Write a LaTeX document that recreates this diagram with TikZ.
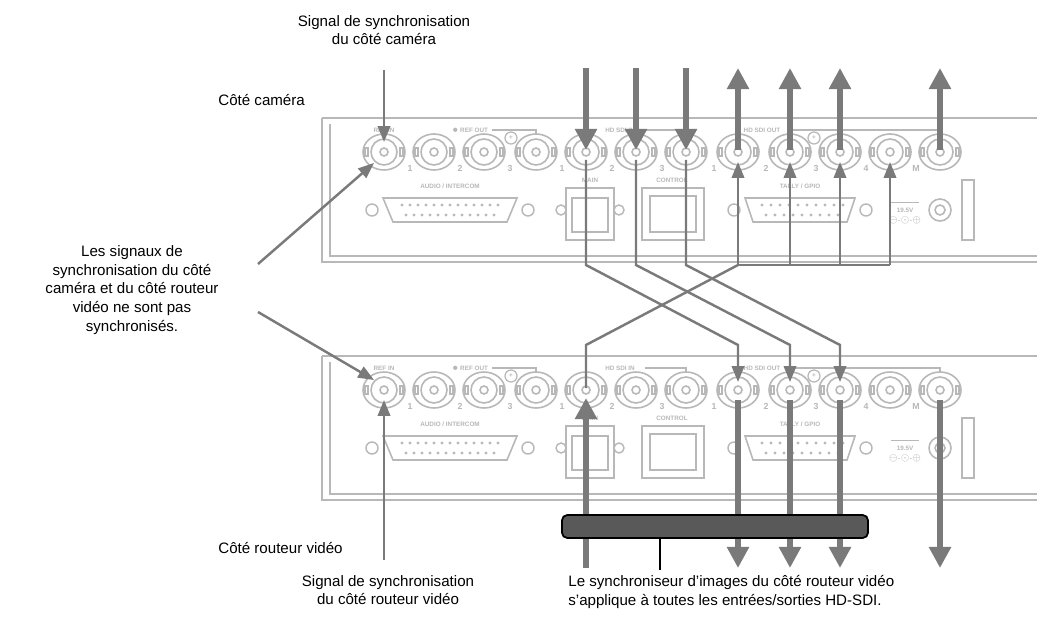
\documentclass[tikz,border=0pt]{standalone}
\usepackage{fontspec}
\setmainfont{Liberation Sans}
\usetikzlibrary{arrows.meta}
\definecolor{pl}{HTML}{B8B8B8}
\definecolor{ar}{HTML}{7A7A7A}
\tikzset{
 pan/.style={draw=pl,line width=1.2pt},
 pt/.style={font=\fontsize{3.6}{4}\selectfont\bfseries,text=pl,inner sep=0},
 lab/.style={font=\fontsize{8.6}{10.6}\selectfont,align=center,inner sep=0},
 thin/.style={draw=ar,line width=1.4pt,-{Triangle[width=7pt,length=9pt]}},
 thinl/.style={draw=ar,line width=1.4pt},
 thick/.style={draw=ar,line width=3.2pt,-{Triangle[width=12pt,length=12pt]}},
}
\newcommand\mybnc[2]{%
 \draw[pan,line width=0.9pt] (#1,#2) ellipse (21 and 18);
 \draw[pan,line width=0.9pt] (#1,#2) circle (13);
 \draw[pan,line width=0.9pt] (#1,#2) circle (4);
 \draw[pan,line width=0.7pt] (#1-19,#2-4) rectangle (#1-16,#2+4);
 \draw[pan,line width=0.7pt] (#1+16,#2-4) rectangle (#1+19,#2+4);}
\newcommand\mypanel{%
 \draw[pan] (322,118) -- (1037,118);
 \draw[pan] (322,118) -- (322,262) -- (1037,262);
 \draw[pan,line width=0.8pt] (330,124) -- (330,256) -- (1037,256);
 \foreach \x in {384,434,484,536,586,636,686,738,790,840,890,940}{\mybnc{\x}{152}}
 \foreach \x/\t in {410/1,460/2,510/3,562/1,612/2,662/3,714/1,766/2,816/3,866/4,916/M}{\node[pt,font=\fontsize{5}{5}\selectfont\bfseries] at (\x,168) {\t};}
 \node[pt] at (384,130) {REF IN};
 \node[pt] at (470,130) {$\bullet$ REF OUT};
 \draw[pan,line width=0.7pt] (492,130) -- (536,130) -- (536,134);
 \draw[pan,line width=0.7pt] (511,138) circle (6); \node[pt] at (511,138) {+};
 \node[pt] at (620,130) {HD SDI IN};
 \draw[pan,line width=0.7pt] (645,130) -- (686,130) -- (686,134);
 \node[pt] at (762,130) {HD SDI OUT};
 \draw[pan,line width=0.7pt] (790,130) -- (940,130) -- (940,134);
 \draw[pan,line width=0.7pt] (814,138) circle (6); \node[pt] at (814,138) {+};
 \node[pt] at (450,186) {AUDIO / INTERCOM};
 \draw[pan,line width=0.9pt] (383,198) -- (517,198) -- (507,222) -- (393,222) -- cycle;
 \draw[pan,line width=0.8pt] (372,210) circle (6) (528,210) circle (6);
 \foreach \i in {0,...,12}{\fill[pl] (402+\i*8,205) circle (1.6);}
 \foreach \i in {0,...,11}{\fill[pl] (406+\i*8,215) circle (1.6);}
 \node[pt] at (590,180) {MAIN};
 \draw[pan,line width=0.9pt] (566,188) rectangle (614,240);
 \draw[pan,line width=0.8pt] (572,198) rectangle (608,232);
 \draw[pan,line width=0.8pt] (561,210) circle (5) (619,210) circle (5);
 \node[pt] at (672,180) {CONTROL};
 \draw[pan,line width=0.9pt] (642,188) rectangle (704,240);
 \draw[pan,line width=0.8pt] (650,196) rectangle (696,232);
 \node[pt] at (800,186) {TALLY / GPIO};
 \draw[pan,line width=0.9pt] (745,198) -- (855,198) -- (847,222) -- (753,222) -- cycle;
 \draw[pan,line width=0.8pt] (734,210) circle (6) (866,210) circle (6);
 \foreach \i in {0,...,9}{\fill[pl] (762+\i*9,205) circle (1.6);}
 \foreach \i in {0,...,8}{\fill[pl] (766+\i*9,215) circle (1.6);}
 \node[pt] at (905,202) {\rule{16pt}{0.5pt}};
 \node[pt] at (905,210) {19.5V};
 \node[pt] at (905,220) {$\ominus$-$\odot$-$\oplus$};
 \draw[pan,line width=0.9pt] (940,210) circle (11) (940,210) circle (5);
 \draw[pan,line width=0.9pt] (962,180) rectangle (974,240);
}
\begin{document}
\begin{tikzpicture}[x=0.02cm,y=-0.02cm]
\useasboundingbox (0,0) rectangle (1037,618);
\fill[white] (0,0) rectangle (1037,618);
\mypanel
\begin{scope}[yshift=-238*0.02cm]\mypanel\end{scope}
% texts
\node[lab] (t1) at (384,30) {Signal de synchronisation\\du côté caméra};
\node[lab,anchor=west] (t2) at (218,100) {Côté caméra};
\node[lab] (t3) at (132,290) {Les signaux de\\synchronisation du côté\\caméra et du côté routeur\\vidéo ne sont pas\\synchronisés.};
\node[lab,anchor=west] (t4) at (218,548) {Côté routeur vidéo};
\node[lab] (t5) at (388,590) {Signal de synchronisation\\du côté routeur vidéo};
\node[lab,align=left,anchor=west] (t6) at (568,592) {Le synchroniseur d'images du côté routeur vidéo\\s'applique à toutes les entrées/sorties HD-SDI.};
% coordinates
\coordinate (a1) at (384,70); \coordinate (a1e) at (384,142);
\coordinate (b1) at (384,560); \coordinate (b1e) at (384,400);
\coordinate (d1) at (258,264); \coordinate (d1e) at (374,163);
\coordinate (d2) at (258,312); \coordinate (d2e) at (374,380);
\draw[thin] (a1) -- (a1e);
\draw[thin] (b1) -- (b1e);
\draw[thin] (d1) -- (d1e);
\draw[thin] (d2) -- (d2e);
% thick top
\foreach \x in {586,636,686}{\draw[thick] (\x,68) -- (\x,150);}
\foreach \x in {738,790,840,940}{\draw[thick] (\x,150) -- (\x,68);}
% crossing lines
\draw[thinl] (586,160) -- (586,265) -- (738,345) [thin] -- (738,382);
\draw[thinl] (636,160) -- (636,265) -- (790,345) [thin] -- (790,382);
\draw[thinl] (686,160) -- (686,265) -- (840,345) [thin] -- (840,382);
\draw[thinl] (738,265) -- (890,265);
\foreach \x in {738,790,840,890}{\draw[thin] (\x,265) -- (\x,162);}
\draw[thinl] (738,265) -- (586,345) -- (586,388);
% bottom thick
\draw[thick] (586,568) -- (586,398);
\foreach \x in {738,790,840,940}{\draw[thick] (\x,400) -- (\x,568);}
\draw[fill=black!65,draw=black,line width=1pt,rounded corners=3pt] (562,515) rectangle (868,538);
\draw[line width=0.6pt] (660,538) -- (660,570);
\end{tikzpicture}
\end{document}
